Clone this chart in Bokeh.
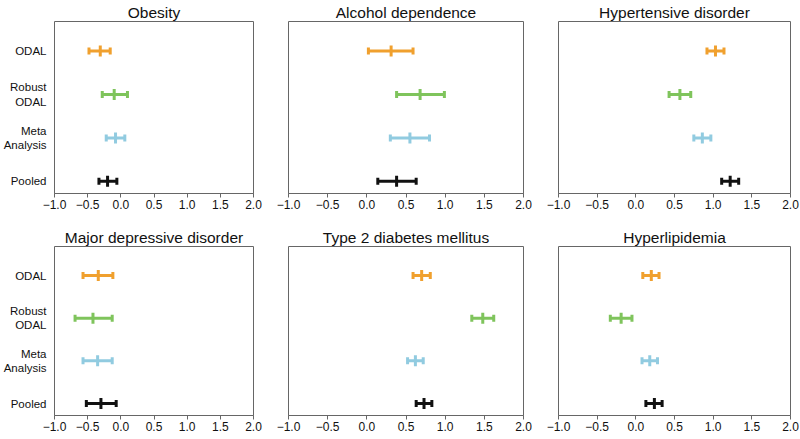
from bokeh.plotting import figure
from bokeh.layouts import column, row
from bokeh.models import FixedTicker, Range1d, ColumnDataSource, CustomJSTickFormatter
from bokeh.embed import file_html
from bokeh.resources import INLINE

FONT = "Liberation Sans"

titles = ["Obesity", "Alcohol dependence", "Hypertensive disorder",
          "Major depressive disorder", "Type 2 diabetes mellitus", "Hyperlipidemia"]
methods = ["ODAL", "Robust\nODAL", "Meta\nAnalysis", "Pooled"]
method_pos = [4, 3, 2, 1]
colors = ["#F0A02E", "#7FC45C", "#91CBE0", "#111111"]

x_ticks = [-1.0, -0.5, 0.0, 0.5, 1.0, 1.5, 2.0]
x_tick_labels = ["\u22121.0", "\u22120.5", "0.0", "0.5", "1.0", "1.5", "2.0"]

# order within each list: ODAL, Robust ODAL, Meta Analysis, Pooled
obesity_est = [-0.31, -0.10, -0.08, -0.20]
obesity_lo = [-0.48, -0.28, -0.22, -0.33]
obesity_hi = [-0.16, 0.10, 0.06, -0.06]

alcohol_est = [0.31, 0.68, 0.55, 0.38]
alcohol_lo = [0.02, 0.38, 0.30, 0.14]
alcohol_hi = [0.59, 0.99, 0.80, 0.63]

hypert_est = [1.03, 0.57, 0.86, 1.22]
hypert_lo = [0.92, 0.43, 0.75, 1.11]
hypert_hi = [1.14, 0.71, 0.97, 1.33]

mdd_est = [-0.34, -0.42, -0.35, -0.30]
mdd_lo = [-0.57, -0.69, -0.57, -0.52]
mdd_hi = [-0.12, -0.13, -0.13, -0.07]

t2dm_est = [0.70, 1.48, 0.62, 0.73]
t2dm_lo = [0.59, 1.34, 0.52, 0.63]
t2dm_hi = [0.81, 1.62, 0.72, 0.83]

hyperlip_est = [0.20, -0.19, 0.18, 0.24]
hyperlip_lo = [0.09, -0.33, 0.08, 0.13]
hyperlip_hi = [0.30, -0.05, 0.28, 0.34]

panels = [
    (obesity_est, obesity_lo, obesity_hi),
    (alcohol_est, alcohol_lo, alcohol_hi),
    (hypert_est, hypert_lo, hypert_hi),
    (mdd_est, mdd_lo, mdd_hi),
    (t2dm_est, t2dm_lo, t2dm_hi),
    (hyperlip_est, hyperlip_lo, hyperlip_hi),
]

# layout geometry (pixels)
col_geom = [  # (border_left, frame_width, border_right)
    (52, 199, 11),
    (24, 235, 9),
    (26, 232, 10),
]
row_geom = [  # (border_top, frame_height, border_bottom)
    (20, 172, 31),
    (22, 169, 21),
]

GRAY = "#666666"
TEXT = "#111111"

x_formatter_code = """
for (let i = 0; i < tvals.length; i++) {
    if (Math.abs(tvals[i] - tick) < 1e-9) { return tlabels[i]; }
}
return '';
"""


def make_panel(i):
    est, lo, hi = panels[i]
    c = i % 3
    r = i // 3
    bl, fw, br = col_geom[c]
    bt, fh, bb = row_geom[r]
    p = figure(frame_width=fw, frame_height=fh,
               min_border_left=bl, min_border_right=br,
               min_border_top=bt, min_border_bottom=bb,
               x_range=Range1d(-1, 2), y_range=Range1d(0.72, 4.68),
               output_backend="svg", toolbar_location=None,
               title=titles[i])
    p.title.align = "center"
    p.title.text_font = FONT
    p.title.text_font_size = "15.5px"
    p.title.text_font_style = "normal"
    p.title.text_color = TEXT
    p.title.standoff = 2
    p.outline_line_color = GRAY
    p.outline_line_width = 1
    p.grid.visible = False
    p.background_fill_color = "white"
    p.border_fill_color = "white"

    xa = p.xaxis[0]
    xa.ticker = FixedTicker(ticks=x_ticks)
    xa.formatter = CustomJSTickFormatter(args=dict(tvals=x_ticks, tlabels=x_tick_labels),
                                         code=x_formatter_code)
    xa.axis_line_color = GRAY
    xa.major_tick_line_color = GRAY
    xa.major_tick_out = 4
    xa.major_tick_in = 0
    xa.minor_tick_line_color = None
    xa.major_label_text_font = FONT
    xa.major_label_text_font_size = "12px"
    xa.major_label_text_color = TEXT
    xa.major_label_standoff = 2

    ya = p.yaxis[0]
    if c == 0:
        ya.ticker = FixedTicker(ticks=method_pos)
        ya.major_label_overrides = {pos: m for pos, m in zip(method_pos, methods)}
        ya.axis_line_color = None
        ya.major_tick_line_color = None
        ya.minor_tick_line_color = None
        ya.major_label_text_font = FONT
        ya.major_label_text_font_size = "11.5px"
        ya.major_label_text_color = TEXT
        ya.major_label_standoff = 2
    else:
        ya.visible = False

    src = ColumnDataSource(dict(y=method_pos, est=est, lo=lo, hi=hi, color=colors))
    p.segment(x0="lo", y0="y", x1="hi", y1="y", line_color="color",
              line_width=3, source=src)
    for key, h in (("lo", 7), ("hi", 7), ("est", 11)):
        p.rect(x=key, y="y", width=3, height=h, width_units="screen",
               height_units="screen", fill_color="color", line_color=None,
               source=src)
    return p


figs = [make_panel(i) for i in range(6)]
layout = column(row(*figs[:3]), row(*figs[3:]))

open("out.html", "w").write(file_html(layout, INLINE))
